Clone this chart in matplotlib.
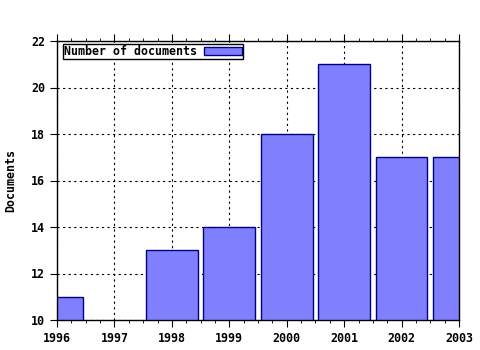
import matplotlib.pyplot as plt
from matplotlib.ticker import MultipleLocator

years = [1996, 1997, 1998, 1999, 2000, 2001, 2002, 2003]
docs = [11, 0, 13, 14, 18, 21, 17, 17]
year_labels = [str(y) for y in years]
y_ticks = [10, 12, 14, 16, 18, 20, 22]

plt.rcParams['font.family'] = 'DejaVu Sans Mono'
plt.rcParams['font.weight'] = 'bold'
plt.rcParams['axes.labelweight'] = 'bold'
plt.rcParams['font.size'] = 8.4

fig = plt.figure(figsize=(4.8, 3.5), dpi=100)
ax = fig.add_axes([57 / 480, 30 / 350, 402 / 480, 279 / 350])

ax.bar(years, docs, width=0.9, color='#8080ff', edgecolor='#000080',
       linewidth=1, label='Number of documents', zorder=3)

ax.set_xlim(1996, 2003)
ax.set_ylim(10, 22)
ax.set_xticks(years)
ax.set_xticklabels(year_labels)
ax.set_yticks(y_ticks)
ax.xaxis.set_minor_locator(MultipleLocator(0.25))
ax.tick_params(axis='x', which='both', top=True, direction='out')
ax.tick_params(axis='x', which='major', length=5)
ax.tick_params(axis='x', which='minor', length=2)
ax.tick_params(axis='y', length=5)
ax.grid(True, which='major', color='black', linestyle=(0, (2, 3)), linewidth=0.8, zorder=0)
ax.set_axisbelow(True)
ax.set_ylabel('Documents', labelpad=10)

for s in ax.spines.values():
    s.set_linewidth(1)
    s.set_zorder(5)

leg = ax.legend(loc='upper left', bbox_to_anchor=(0.015, 0.989), markerfirst=False,
                fancybox=False, framealpha=1, edgecolor='black', borderpad=0.1,
                handlelength=3.2, handleheight=0.6, borderaxespad=0, handletextpad=0.6)
leg.get_frame().set_linewidth(1)

fig.savefig('out.png', dpi=100)
